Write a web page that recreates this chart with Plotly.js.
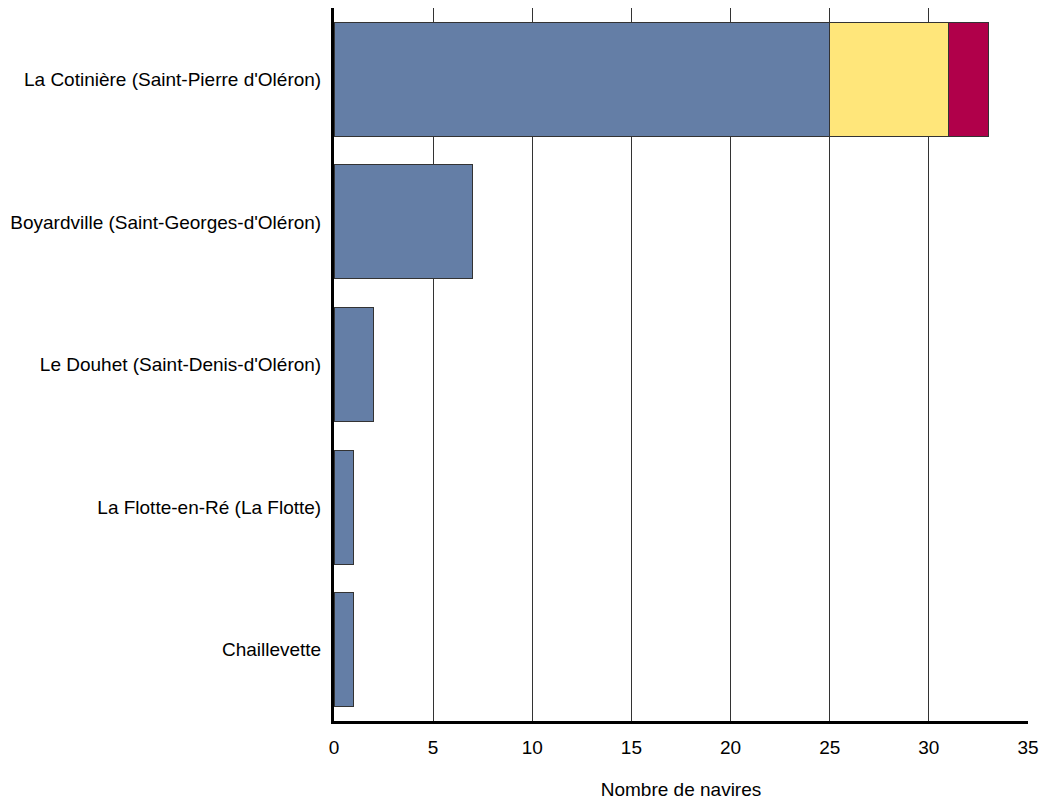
<!DOCTYPE html>
<html>
<head>
<meta charset="utf-8">
<script src="https://cdn.plot.ly/plotly-3.0.1.min.js"></script>
<style>html,body{margin:0;padding:0;background:#fff}#chart{width:1042px;height:801px}</style>
</head>
<body>
<div id="chart"></div>
<script>
const ports = ["La Cotinière (Saint-Pierre d'Oléron)", "Boyardville (Saint-Georges-d'Oléron)", "Le Douhet (Saint-Denis-d'Oléron)", "La Flotte-en-Ré (La Flotte)", "Chaillevette"];
const seriesA = [25, 7, 2, 1, 1];
const seriesB = [6, 0, 0, 0, 0];
const seriesC = [2, 0, 0, 0, 0];
const xTicks = [0, 5, 10, 15, 20, 25, 30, 35];
const xTitle = "Nombre de navires";

const line = {color: '#333333', width: 1};
const mk = (vals, color) => ({
  type: 'bar', orientation: 'h', y: ports, x: vals,
  marker: {color: color, line: line}, hoverinfo: 'x+y'
});
const data = [mk(seriesA, '#647ea6'), mk(seriesB, '#ffe67a'), mk(seriesC, '#b0004a')];

const layout = {
  width: 1042, height: 801,
  margin: {l: 334, r: 14, t: 8, b: 80},
  barmode: 'stack', bargap: 0.2, showlegend: false,
  paper_bgcolor: '#fff', plot_bgcolor: '#fff',
  font: {family: 'Liberation Sans, Arial, sans-serif', size: 19, color: '#000'},
  xaxis: {
    range: [0, 35], tickvals: xTicks, ticktext: xTicks.map(String),
    showgrid: true, gridcolor: '#333333', gridwidth: 1,
    showline: true, linecolor: '#000', linewidth: 3,
    ticks: 'outside', ticklen: 7, tickcolor: 'rgba(0,0,0,0)',
    zeroline: false, fixedrange: true,
    title: {text: xTitle, standoff: 26, font: {size: 19}}
  },
  yaxis: {
    autorange: 'reversed', showgrid: false,
    showline: true, linecolor: '#000', linewidth: 3,
    ticks: 'outside', ticklen: 6, tickcolor: 'rgba(0,0,0,0)',
    zeroline: false, fixedrange: true
  }
};
Plotly.newPlot('chart', data, layout, {displayModeBar: false, staticPlot: true});
</script>
</body>
</html>
